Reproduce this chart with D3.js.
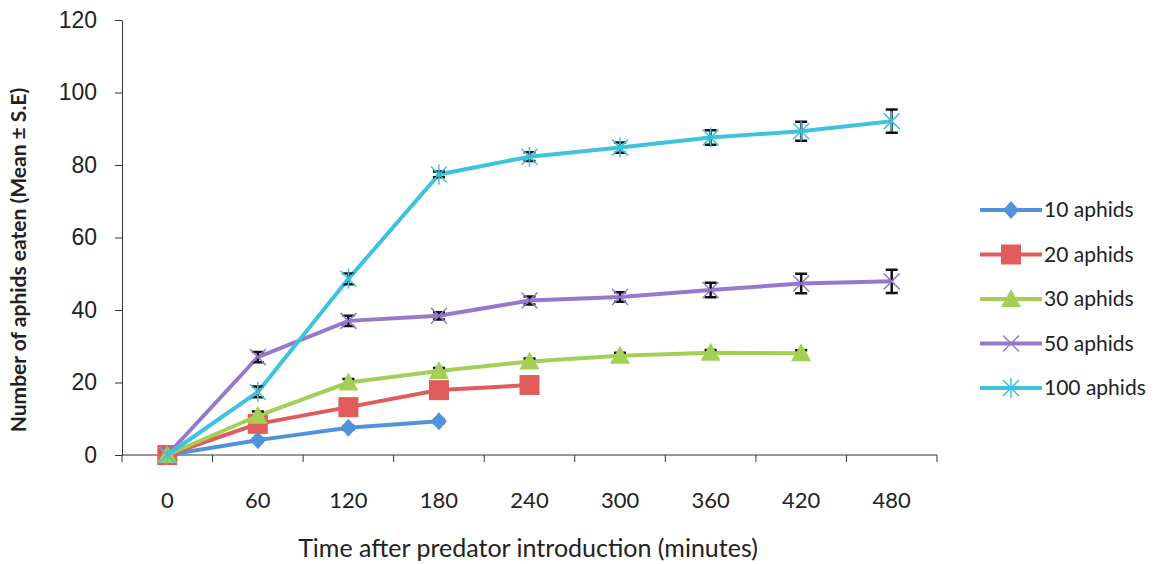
<!DOCTYPE html>
<html>
<head>
<meta charset="utf-8">
<script src="https://cdn.jsdelivr.net/npm/d3@7"></script>
<style>
  body { margin: 0; background: #fff; }
  svg { display: block; font-family: Lato, "Open Sans", sans-serif; }
</style>
</head>
<body>
<div id="chart"></div>
<script>
// time categories (minutes)
const times = ["0", "60", "120", "180", "240", "300", "360", "420", "480"];
const yTicks = [0, 20, 40, 60, 80, 100, 120];

const aphids10 = [0, 4.1, 7.5, 9.3];
const aphids10se = [0, 0.4, 0.5, 0.5];
const aphids20 = [0, 8.6, 13.2, 17.9, 19.3];
const aphids20se = [0, 0.6, 0.7, 0.8, 0.8];
const aphids30 = [0, 10.8, 20, 23.2, 25.8, 27.4, 28.2, 28.1];
const aphids30se = [0, 1.2, 1.0, 0.8, 0.8, 0.8, 0.8, 0.8];
const aphids50 = [0, 27, 37, 38.4, 42.6, 43.6, 45.5, 47.3, 47.9];
const aphids50se = [0, 1.4, 1.4, 1.0, 1.1, 1.3, 2.0, 2.7, 3.2];
const aphids100 = [0, 17.4, 48.6, 77.4, 82.3, 84.8, 87.6, 89.3, 92.1];
const aphids100se = [0, 1.5, 1.5, 0.8, 1.2, 1.4, 2.0, 2.6, 3.2];

const series = [
  { name: "10 aphids", values: aphids10, se: aphids10se, color: "#4f93dc", marker: "diamond" },
  { name: "20 aphids", values: aphids20, se: aphids20se, color: "#e05b5b", marker: "square" },
  { name: "30 aphids", values: aphids30, se: aphids30se, color: "#a4cf55", marker: "triangle" },
  { name: "50 aphids", values: aphids50, se: aphids50se, color: "#9479cc", marker: "cross" },
  { name: "100 aphids", values: aphids100, se: aphids100se, color: "#3fc3dd", marker: "star" }
];

const width = 1167, height = 564;
const margin = { top: 20, right: 230, bottom: 109, left: 122 };

const svg = d3.select("#chart").append("svg")
  .attr("width", width)
  .attr("height", height);

const x = d3.scaleBand()
  .domain(times)
  .range([margin.left, width - margin.right])
  .padding(0);

const y = d3.scaleLinear()
  .domain([0, 120])
  .range([height - margin.bottom, margin.top]);

const cx = i => x(times[i]) + x.bandwidth() / 2;

// y axis
svg.append("g")
  .attr("transform", `translate(${margin.left},0)`)
  .call(d3.axisLeft(y).tickValues(yTicks).tickSize(7).tickSizeOuter(0).tickPadding(18))
  .call(g => g.selectAll("line, path").attr("stroke", "#333"))
  .call(g => g.selectAll("text").attr("font-size", 23).attr("fill", "#222"));

// x axis, ticks between categories like a category axis
const xg = svg.append("g")
  .attr("transform", `translate(0,${y(0)})`);
xg.append("line")
  .attr("x1", margin.left).attr("x2", width - margin.right)
  .attr("stroke", "#333");
xg.selectAll(".tk")
  .data(times.concat(["end"]))
  .join("line")
  .attr("x1", (d, i) => i < times.length ? x(d) : x.range()[1])
  .attr("x2", (d, i) => i < times.length ? x(d) : x.range()[1])
  .attr("y1", 0).attr("y2", 7)
  .attr("stroke", "#333");
xg.selectAll("text")
  .data(times)
  .join("text")
  .attr("x", d => x(d) + x.bandwidth() / 2)
  .attr("y", 53)
  .attr("text-anchor", "middle")
  .attr("font-size", 22)
  .attr("fill", "#222")
  .text(d => d);

// titles
svg.append("text")
  .attr("x", 528)
  .attr("y", 557)
  .attr("text-anchor", "middle")
  .attr("font-size", 25)
  .attr("fill", "#222")
  .text("Time after predator introduction (minutes)");

svg.append("text")
  .attr("transform", `translate(26,${260}) rotate(-90)`)
  .attr("text-anchor", "middle")
  .attr("font-size", 21)
  .attr("font-weight", "bold")
  .attr("fill", "#222")
  .text("Number of aphids eaten (Mean \u00b1 S.E)");

function drawMarker(g, type, color) {
  if (type === "diamond") {
    g.append("path").attr("d", "M0,-9L8,0L0,9L-8,0Z").attr("fill", color);
  } else if (type === "square") {
    g.append("rect").attr("x", -10).attr("y", -10).attr("width", 20).attr("height", 20)
      .attr("fill", color);
  } else if (type === "triangle") {
    g.append("path").attr("d", "M0,-10L10,8L-10,8Z").attr("fill", color);
  } else if (type === "cross") {
    g.append("path").attr("d", "M-8,-8L8,8M-8,8L8,-8").attr("stroke", color).attr("stroke-width", 1.5);
  } else if (type === "star") {
    g.append("path").attr("d", "M-8,-8L8,8M-8,8L8,-8M0,-10V10")
      .attr("stroke", color).attr("stroke-width", 1.5);
  }
}

const line = d3.line()
  .x((d, i) => cx(i))
  .y(d => y(d));

series.forEach(s => {
  const g = svg.append("g");
  g.append("path")
    .datum(s.values)
    .attr("fill", "none")
    .attr("stroke", s.color)
    .attr("stroke-width", 4)
    .attr("d", line);

  // error bars
  g.selectAll(".err")
    .data(s.values.map((v, i) => ({ v, i, e: s.se[i] })).filter(d => d.e > 0))
    .join("path")
    .attr("fill", "none")
    .attr("stroke", "#111")
    .attr("stroke-width", 2.5)
    .attr("d", d => {
      const px = cx(d.i), t = y(d.v + d.e), b = y(d.v - d.e);
      return `M${px - 6},${t}H${px + 6}M${px},${t}V${b}M${px - 6},${b}H${px + 6}`;
    });

  s.values.forEach((v, i) => {
    const m = g.append("g").attr("transform", `translate(${cx(i)},${y(v)})`);
    drawMarker(m, s.marker, s.color);
  });
});

// legend
const legend = svg.append("g").attr("transform", "translate(980,210)");
series.forEach((s, i) => {
  const row = legend.append("g").attr("transform", `translate(0,${i * 44.5})`);
  row.append("line").attr("x1", 0).attr("x2", 62).attr("stroke", s.color).attr("stroke-width", 4);
  const m = row.append("g").attr("transform", "translate(31,0)");
  drawMarker(m, s.marker, s.color);
  row.append("text")
    .attr("x", 64).attr("y", 0).attr("dy", "0.35em")
    .attr("font-size", 21)
    .attr("fill", "#222")
    .text(s.name);
});
</script>
</body>
</html>
